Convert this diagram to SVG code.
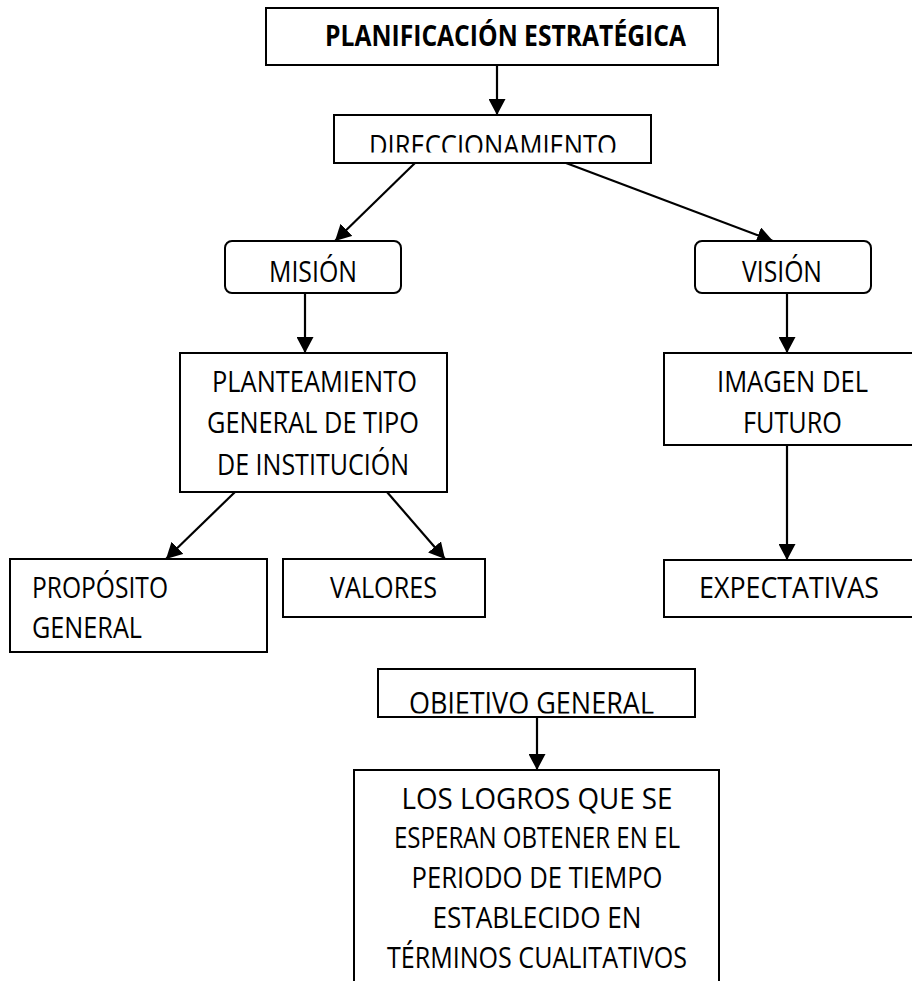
<svg xmlns="http://www.w3.org/2000/svg" width="912" height="981" viewBox="0 0 912 981">
  <style>
    .box { fill: #ffffff; stroke: #000000; stroke-width: 2; }
    .lbl { font-family: "Open Sans", "Noto Sans", "Liberation Sans", sans-serif; font-size: 28.5px; fill: #000000; }
    .bold { font-weight: bold; }
    .mid { text-anchor: middle; }
    .link { stroke: #000000; stroke-width: 2.2; fill: none; marker-end: url(#arrow); }
  </style>
  <defs>
    <marker id="arrow" markerUnits="userSpaceOnUse" markerWidth="17" markerHeight="17" refX="16" refY="8.5" orient="auto">
      <path d="M0,0 L16,8.5 L0,17 z" fill="#000000"/>
    </marker>
    <clipPath id="clipDir"><rect x="334" y="115" width="317" height="37.5"/></clipPath>
    <clipPath id="clipObj"><rect x="378" y="669" width="317" height="44.5"/></clipPath>
  </defs>
  <rect width="912" height="981" fill="#ffffff"/>

  <g id="connectors">
    <line class="link" x1="497" y1="65" x2="497" y2="115"/>
    <line class="link" x1="415" y1="163" x2="335" y2="241"/>
    <line class="link" x1="566" y1="163" x2="773" y2="241"/>
    <line class="link" x1="305" y1="293" x2="305" y2="353"/>
    <line class="link" x1="787" y1="293" x2="787" y2="353"/>
    <line class="link" x1="235" y1="492" x2="166" y2="559"/>
    <line class="link" x1="387" y1="492" x2="445" y2="559"/>
    <line class="link" x1="787" y1="445" x2="787" y2="560"/>
    <line class="link" x1="537" y1="717" x2="537" y2="770"/>
  </g>

  <g id="planificacion">
    <rect class="box" x="266" y="8" width="452" height="57"/>
    <text class="lbl bold" x="325" y="46" textLength="361" lengthAdjust="spacingAndGlyphs">PLANIFICACIÓN ESTRATÉGICA</text>
  </g>

  <g id="direccionamiento">
    <rect class="box" x="334" y="115" width="317" height="48"/>
    <text class="lbl" x="369" y="156" textLength="248" lengthAdjust="spacingAndGlyphs" clip-path="url(#clipDir)">DIRECCIONAMIENTO</text>
  </g>

  <g id="mision">
    <rect class="box" x="225" y="241" width="176" height="52" rx="7"/>
    <text class="lbl" x="269" y="282" textLength="88" lengthAdjust="spacingAndGlyphs">MISIÓN</text>
  </g>

  <g id="vision">
    <rect class="box" x="695" y="241" width="176" height="52" rx="7"/>
    <text class="lbl" x="742" y="282" textLength="80" lengthAdjust="spacingAndGlyphs">VISIÓN</text>
  </g>

  <g id="planteamiento">
    <rect class="box" x="180" y="353" width="267" height="139"/>
    <text class="lbl" x="212" y="392" textLength="205" lengthAdjust="spacingAndGlyphs">PLANTEAMIENTO</text>
    <text class="lbl" x="207" y="433" textLength="212" lengthAdjust="spacingAndGlyphs">GENERAL DE TIPO</text>
    <text class="lbl" x="217" y="475" textLength="192" lengthAdjust="spacingAndGlyphs">DE INSTITUCIÓN</text>
  </g>

  <g id="imagen-futuro">
    <rect class="box" x="664" y="353" width="260" height="92"/>
    <text class="lbl" x="717" y="392" textLength="151" lengthAdjust="spacingAndGlyphs">IMAGEN DEL</text>
    <text class="lbl" x="743" y="433" textLength="99" lengthAdjust="spacingAndGlyphs">FUTURO</text>
  </g>

  <g id="proposito">
    <rect class="box" x="10" y="559" width="257" height="93"/>
    <text class="lbl" x="32" y="598" textLength="136" lengthAdjust="spacingAndGlyphs">PROPÓSITO</text>
    <text class="lbl" x="32" y="638" textLength="110" lengthAdjust="spacingAndGlyphs">GENERAL</text>
  </g>

  <g id="valores">
    <rect class="box" x="283" y="559" width="202" height="58"/>
    <text class="lbl" x="330" y="598" textLength="107" lengthAdjust="spacingAndGlyphs">VALORES</text>
  </g>

  <g id="expectativas">
    <rect class="box" x="664" y="560" width="260" height="57"/>
    <text class="lbl" x="699" y="598" textLength="180" lengthAdjust="spacingAndGlyphs">EXPECTATIVAS</text>
  </g>

  <g id="objetivo">
    <rect class="box" x="378" y="669" width="317" height="48"/>
    <g clip-path="url(#clipObj)">
      <text class="lbl" transform="translate(409 714) scale(1 1.1)" x="0" y="0" textLength="245" lengthAdjust="spacingAndGlyphs">OBJETIVO GENERAL</text>
    </g>
  </g>

  <g id="logros">
    <path class="box" d="M354,985 L354,770 L719,770 L719,985"/>
    <text class="lbl mid" x="537" y="809" textLength="271" lengthAdjust="spacingAndGlyphs">LOS LOGROS QUE SE</text>
    <text class="lbl mid" x="537" y="848" textLength="286" lengthAdjust="spacingAndGlyphs">ESPERAN OBTENER EN EL</text>
    <text class="lbl mid" x="537" y="888" textLength="251" lengthAdjust="spacingAndGlyphs">PERIODO DE TIEMPO</text>
    <text class="lbl mid" x="537" y="928" textLength="209" lengthAdjust="spacingAndGlyphs">ESTABLECIDO EN</text>
    <text class="lbl mid" x="537" y="968" textLength="300" lengthAdjust="spacingAndGlyphs">TÉRMINOS CUALITATIVOS</text>
  </g>
</svg>
